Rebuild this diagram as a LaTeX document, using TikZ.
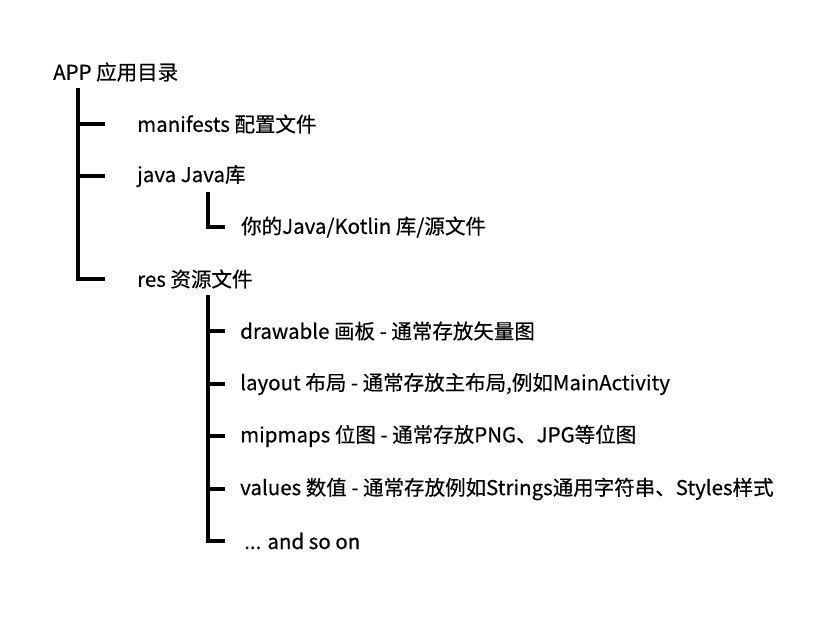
\documentclass[tikz,border=0pt]{standalone}
\usepackage{fontspec}
\setmainfont{Noto Sans CJK SC}[FakeBold=0.4]
\usepackage{tikz}

\begin{document}
\begin{tikzpicture}[x=1pt,y=-1pt,
		item/.style={anchor=west,inner sep=0pt,font=\fontsize{20.5}{24}\selectfont},
		branch/.style={line width=4pt}]
	\useasboundingbox (0,0) rectangle (834,625);
	% top level
	\node[item] (app) at (53,72) {APP 应用目录};
	\node[item] (man) at (137,124) {manifests 配置文件};
	\node[item] (java) at (137,176) {java Java库};
	\node[item] (src) at (241,227) {你的Java/Kotlin 库/源文件};
	\node[item] (res) at (137,279) {res 资源文件};
	% res children
	\node[item] (draw) at (240,331) {drawable 画板 - 通常存放矢量图};
	\node[item] (lay) at (240,384) {layout 布局 - 通常存放主布局,例如MainActivity};
	\node[item] (mip) at (240,436) {mipmaps 位图 - 通常存放PNG、JPG等位图};
	\node[item] (val) at (240,489) {values 数值 - 通常存放例如Strings通用字符串、Styles样式};
	\node[item] (etc) at (244,541) {... and so on};
	\coordinate (app-top) at (78,88);
	\coordinate (java-top) at (208,192);
	\coordinate (res-top) at (208,295);
	\draw[branch] (app-top) |- ([xshift=-32pt]res.west);
	\draw[branch] (app-top |- man.west) -- ([xshift=-32pt]man.west);
	\draw[branch] (app-top |- java.west) -- ([xshift=-32pt]java.west);
	\draw[branch] (java-top) |- ([xshift=-16pt]src.west);
	\draw[branch] (res-top) |- ([xshift=-19pt]etc.west);
	\draw[branch] (res-top |- draw.west) -- ([xshift=-15pt]draw.west);
	\draw[branch] (res-top |- lay.west) -- ([xshift=-15pt]lay.west);
	\draw[branch] (res-top |- mip.west) -- ([xshift=-15pt]mip.west);
	\draw[branch] (res-top |- val.west) -- ([xshift=-15pt]val.west);
\end{tikzpicture}
\end{document}
